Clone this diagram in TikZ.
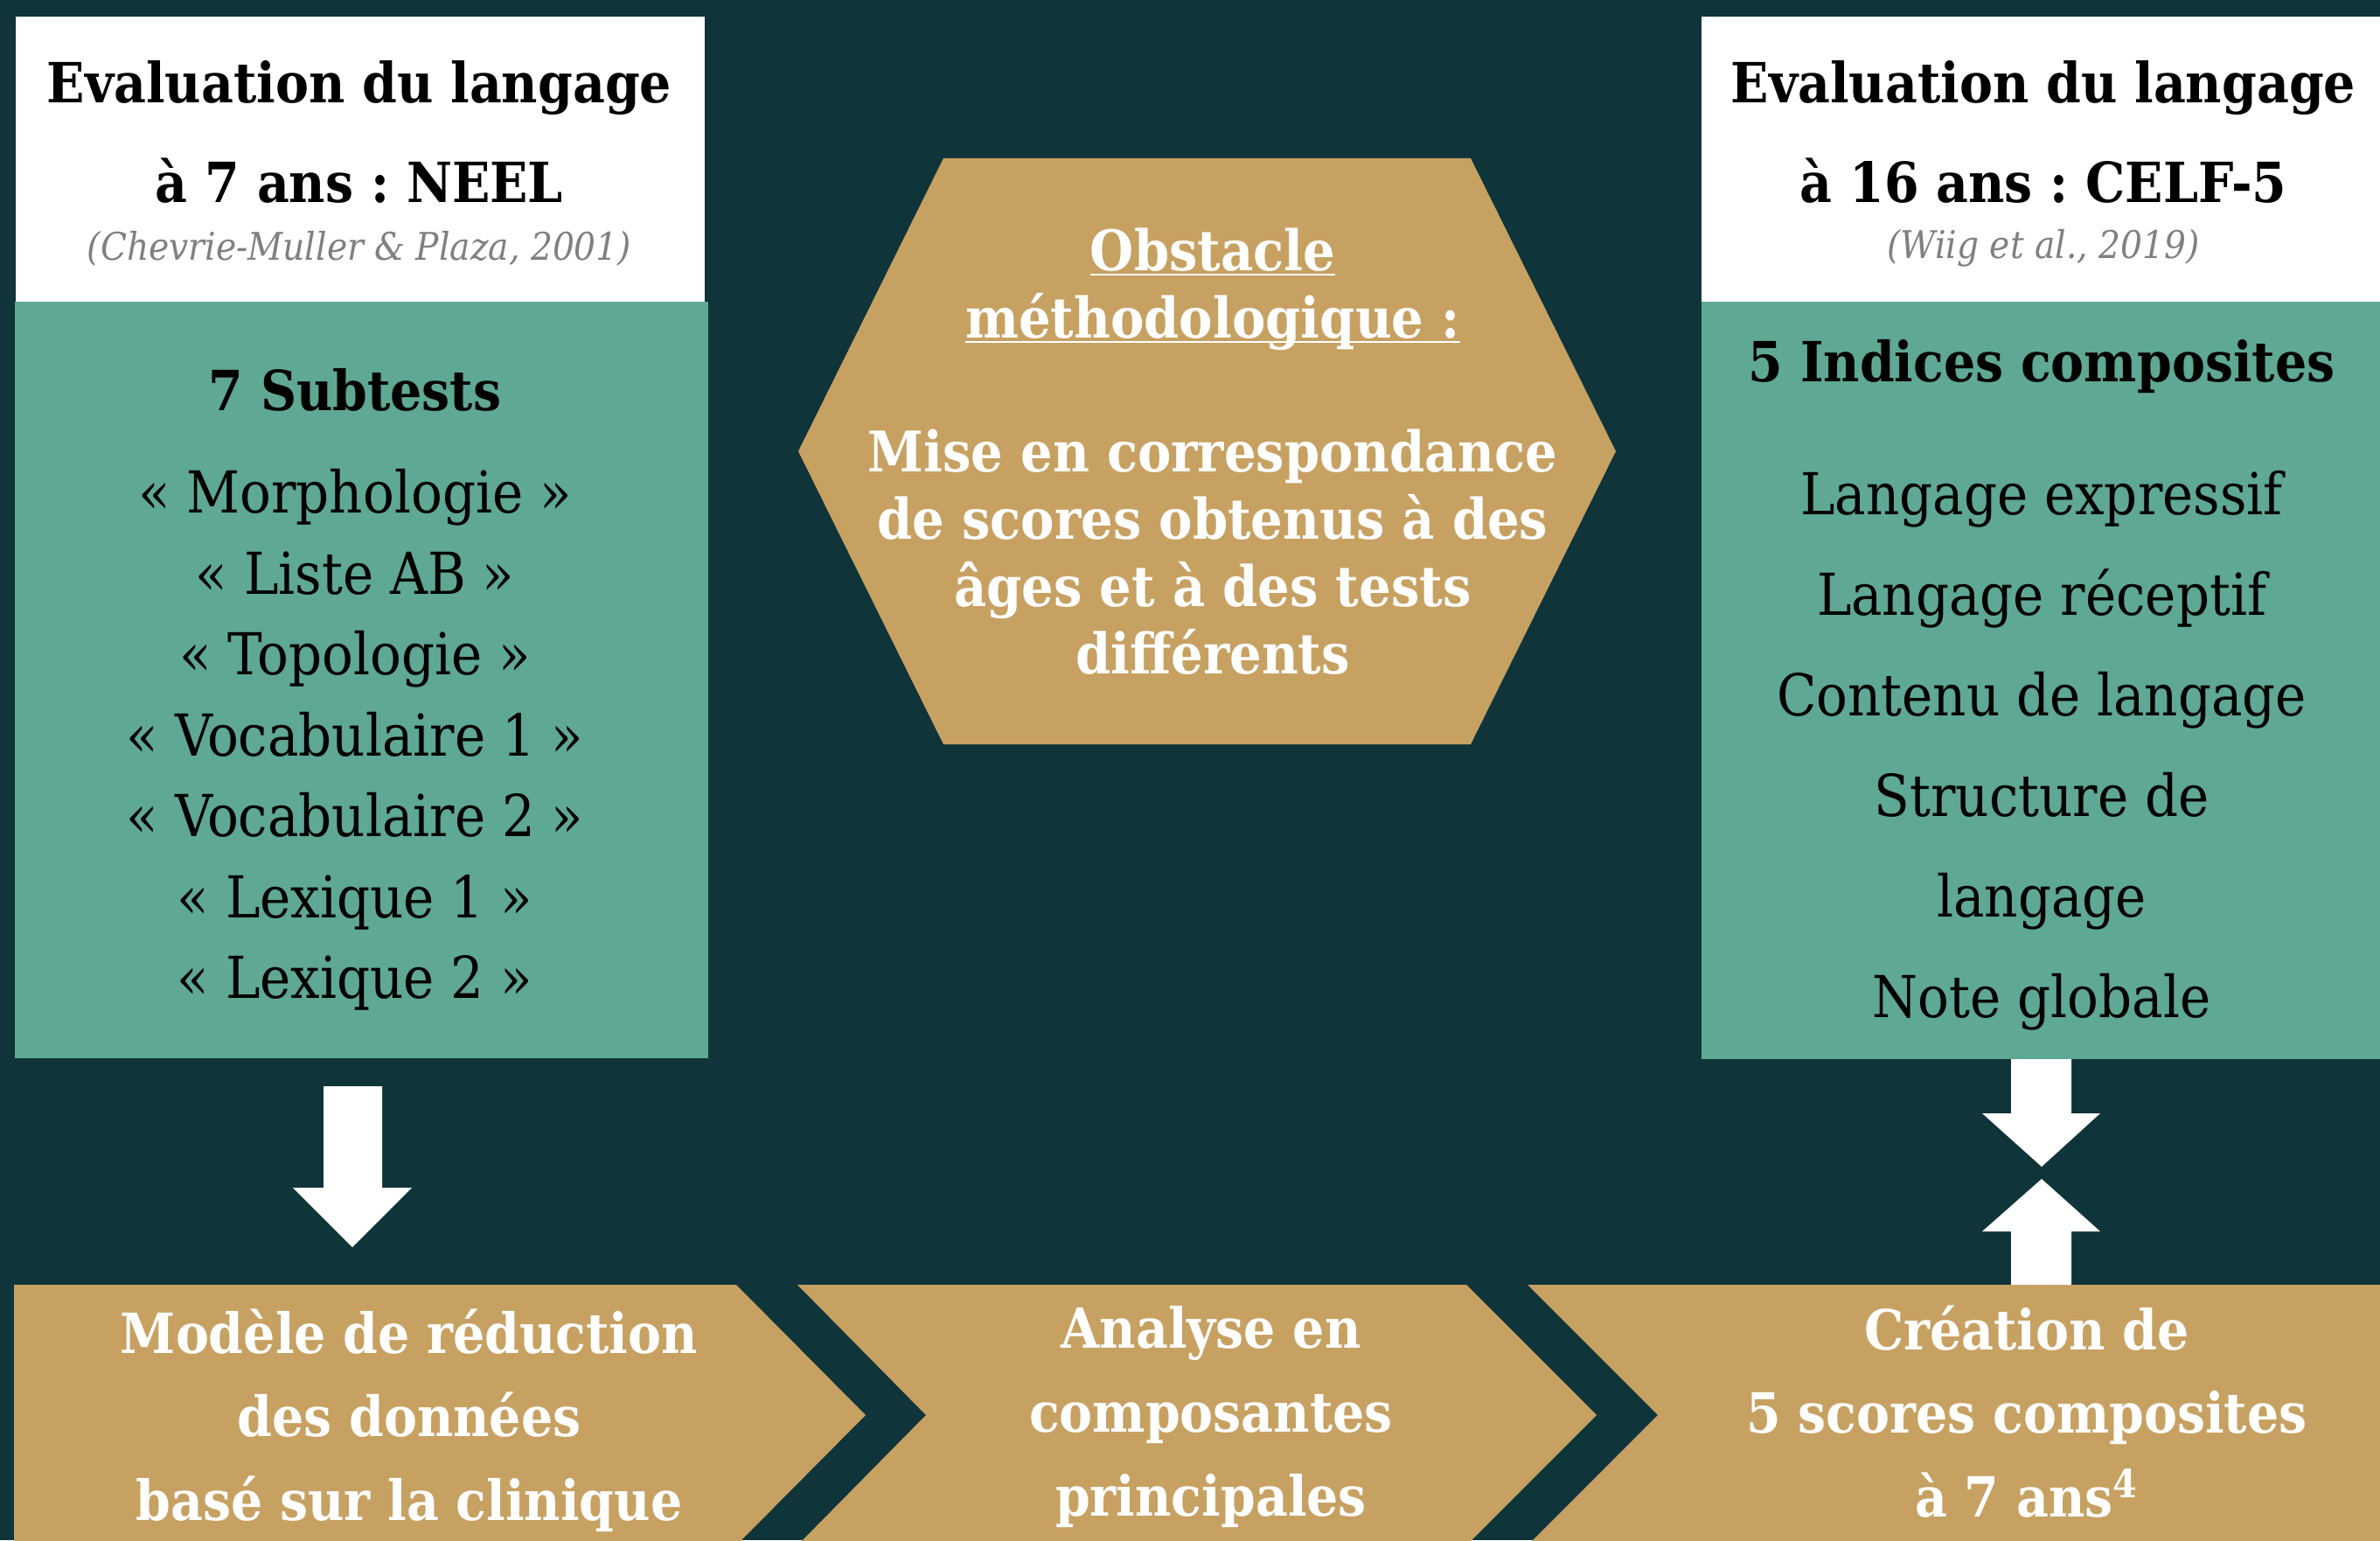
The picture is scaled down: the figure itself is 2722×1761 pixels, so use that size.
\documentclass[tikz,border=0pt]{standalone}
\usepackage{fontspec}
\setmainfont{DejaVu Serif Condensed}
\frenchspacing
\usetikzlibrary{calc}
\definecolor{bgdark}{RGB}{15,52,58}
\definecolor{sage}{RGB}{94,168,148}
\definecolor{ochre}{RGB}{199,161,98}
\definecolor{citegray}{RGB}{128,128,128}
% underline set at a fixed depth below the baseline
\newcommand{\baseul}[1]{\setbox0\hbox{#1}\rlap{\rule[-1.6pt]{\wd0}{0.65pt}}\box0}
\begin{document}
\begin{tikzpicture}[x=0.01cm,y=-0.01cm,
  headtxt/.style={font=\bfseries\fontsize{18}{32.4}\selectfont, align=center, text=black, inner sep=0pt},
  citetxt/.style={font=\itshape\fontsize{12.4}{14}\selectfont, text=citegray, inner sep=0pt},
  listL/.style={font=\fontsize{18.8}{26.3}\selectfont, align=center, text=black, inner sep=0pt},
  listR/.style={font=\fontsize{18.8}{32.7}\selectfont, align=center, text=black, inner sep=0pt},
  hextxt/.style={font=\bfseries\fontsize{18.2}{21.9}\selectfont, align=center, text=white, inner sep=0pt},
  steptxt/.style={font=\bfseries\fontsize{18}{27.2}\selectfont, align=center, text=white, inner sep=0pt},
  blockarrow/.style={fill=white}]

% background
\fill[bgdark] (0,0) rectangle (2722,1761);
\useasboundingbox (0,0) rectangle (2722,1761);

% left column: NEEL at 7 years
\fill[white] (18,19) rectangle (806,345);
\fill[sage] (17,345) rectangle (810,1210);
\node[headtxt] (neelhead) at (411,151) {Evaluation du langage\\à 7 ans : NEEL};
\node[citetxt] (neelcite) at (411,284) {(Chevrie-Muller \& Plaza, 2001)};
\node[headtxt] (neelsub) at (406,446) {7 Subtests};
\node[listL] (neellist) at (406,846) {« Morphologie »\\« Liste AB »\\« Topologie »\\« Vocabulaire 1 »\\« Vocabulaire 2 »\\« Lexique 1 »\\« Lexique 2 »};

% right column: CELF-5 at 16 years
\fill[white] (1946,19) rectangle (2722,345);
\fill[sage] (1946,345) rectangle (2722,1211);
\node[headtxt] (celfhead) at (2337,151) {Evaluation du langage\\à 16 ans : CELF-5};
\node[citetxt] (celfcite) at (2337,284) {(Wiig et al., 2019)};
\node[headtxt] (celfsub) at (2335,419) {5 Indices composites};
\node[listR] (celflist) at (2335,858) {Langage expressif\\Langage réceptif\\Contenu de langage\\Structure de\\langage\\Note globale};

% central hexagon
\fill[ochre] (1079,181) -- (1682,181) -- (1848,516) -- (1682,851) -- (1079,851) -- (913,516) -- cycle;
\node[hextxt] (obsttitle) at (1387,331) {\baseul{Obstacle}\\\baseul{méthodologique :}};
\node[hextxt] (obstbody) at (1387,631) {Mise en correspondance\\de scores obtenus à des\\âges et à des tests\\différents};

% bottom chevron row
\fill[ochre] (16,1469) -- (842,1469) -- (990,1618) -- (842,1767) -- (16,1767) -- cycle;
\fill[ochre] (912,1469) -- (1677,1469) -- (1826,1618) -- (1677,1767) -- (912,1767) -- (1059,1618) -- cycle;
\fill[ochre] (1747,1469) -- (2722,1469) -- (2722,1767) -- (1747,1767) -- (1896,1618) -- cycle;
\node[steptxt] (stepone) at (468,1624) {Modèle de réduction\\des données\\basé sur la clinique};
\node[steptxt] (steptwo) at (1385,1620) {Analyse en\\composantes\\principales};
\node[steptxt] (stepthree) at (2318,1614) {Création de\\5 scores composites\\à 7 ans\textsuperscript{4}};

% block arrows
\fill[blockarrow] (370,1242) -- (437,1242) -- (437,1358) -- (471,1358) -- (403,1426) -- (335,1358) -- (370,1358) -- cycle;
\fill[blockarrow] (2300,1211) -- (2369,1211) -- (2369,1273) -- (2402,1273) -- (2335,1334) -- (2267,1273) -- (2300,1273) -- cycle;
\fill[blockarrow] (2300,1469) -- (2369,1469) -- (2369,1408) -- (2402,1408) -- (2335,1348) -- (2267,1408) -- (2300,1408) -- cycle;
\end{tikzpicture}
\end{document}
